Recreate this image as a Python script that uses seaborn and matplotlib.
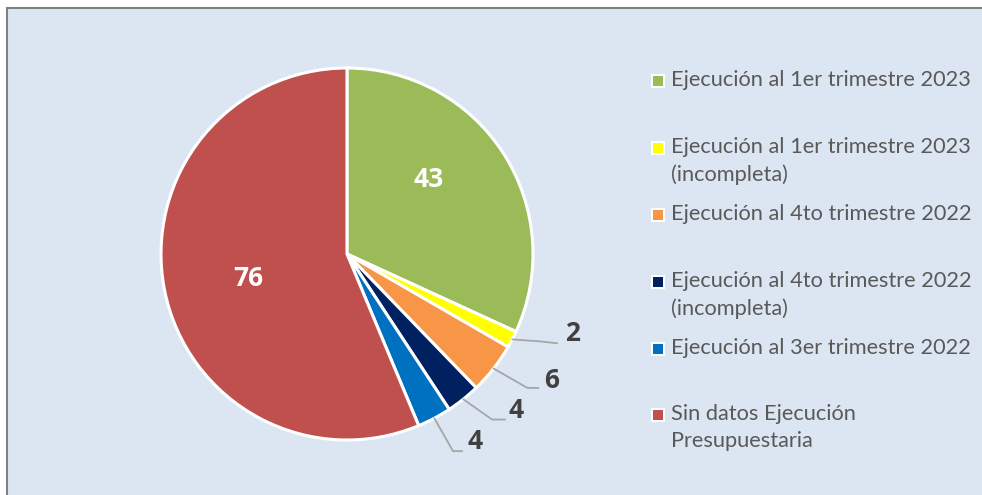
import numpy as np
import matplotlib
matplotlib.use("Agg")
import matplotlib.pyplot as plt
import seaborn as sns
from matplotlib.patches import Rectangle

# chart data
categories = [
    "Ejecución al 1er trimestre 2023",
    "Ejecución al 1er trimestre 2023\n(incompleta)",
    "Ejecución al 4to trimestre 2022",
    "Ejecución al 4to trimestre 2022\n(incompleta)",
    "Ejecución al 3er trimestre 2022",
    "Sin datos Ejecución\nPresupuestaria",
]
values = [43, 2, 6, 4, 4, 76]
colors = ["#9bbb59", "#ffff00", "#f79646", "#002060", "#0070c0", "#c0504d"]

# label layout (pie radius units): inside labels, outer labels with elbows
inside_pos = {0: (0.44, 0.40), 5: (-0.53, -0.13)}
outside_text = {1: (1.21, -0.43), 2: (1.10, -0.68), 3: (0.91, -0.84), 4: (0.69, -1.01)}
outside_elbow = {1: (1.04, -0.47), 2: (0.97, -0.72), 3: (0.78, -0.89), 4: (0.57, -1.06)}
outside_end = {1: (1.13, -0.48), 2: (1.03, -0.72), 3: (0.85, -0.89), 4: (0.62, -1.06)}

sns.set_theme(style="white")
plt.rcParams["font.family"] = ["Lato", "DejaVu Sans"]

W, H = 982, 495
fig = plt.figure(figsize=(W / 100, H / 100), dpi=100)
fig.patch.set_facecolor("white")

# chart area background with border
bg = Rectangle((7 / W, -0.05), 1.1, 1 - 8 / H + 0.05,
               transform=fig.transFigure, facecolor="#dce6f2",
               edgecolor="#808080", linewidth=1.5, zorder=-10)
fig.patches.append(bg)

cx, cy, r = 347, 254, 186
ax = fig.add_axes([(cx - r) / W, (H - cy - r) / H, 2 * r / W, 2 * r / H])
ax.set_zorder(5)
wedges, _ = ax.pie(values, colors=colors, startangle=90, counterclock=False,
                   radius=1.0,
                   wedgeprops=dict(edgecolor="white", linewidth=2.2))
ax.set_xlim(-1, 1)
ax.set_ylim(-1, 1)
ax.set_aspect("equal")
ax.axis("off")

num_font = dict(fontsize=19, fontweight="bold", family=["Open Sans", "DejaVu Sans"])
for i, w in enumerate(wedges):
    if i in inside_pos:
        x, y = inside_pos[i]
        ax.text(x, y, str(values[i]), ha="center", va="center", color="white",
                **num_font)
    else:
        mid = np.deg2rad((w.theta1 + w.theta2) / 2)
        sx, sy = np.cos(mid), np.sin(mid)
        ex, ey = outside_elbow[i]
        fx, fy = outside_end[i]
        ax.plot([sx, ex, fx], [sy, ey, fy], color="#a6a6a6", lw=1.3,
                clip_on=False)
        tx, ty = outside_text[i]
        ax.text(tx, ty, str(values[i]), ha="center", va="center",
                color="#404040", clip_on=False, **num_font)

# legend drawn manually so entries sit on an even grid
leg_y = [81, 148, 215, 282, 349, 415]
for lab, col, y in zip(categories, colors, leg_y):
    fig.patches.append(Rectangle(((658 - 7) / W, (H - y - 7) / H), 14 / W, 14 / H,
                                 transform=fig.transFigure, facecolor="white",
                                 edgecolor="none", zorder=2))
    fig.patches.append(Rectangle(((658 - 5) / W, (H - y - 5) / H), 10 / W, 10 / H,
                                 transform=fig.transFigure, facecolor=col,
                                 edgecolor="none", zorder=3))
    fig.text(671 / W, (H - y + 11) / H, lab, ha="left", va="top",
             fontsize=15.7, color="#595959", linespacing=1.42)

fig.savefig("out.png", dpi=100)
